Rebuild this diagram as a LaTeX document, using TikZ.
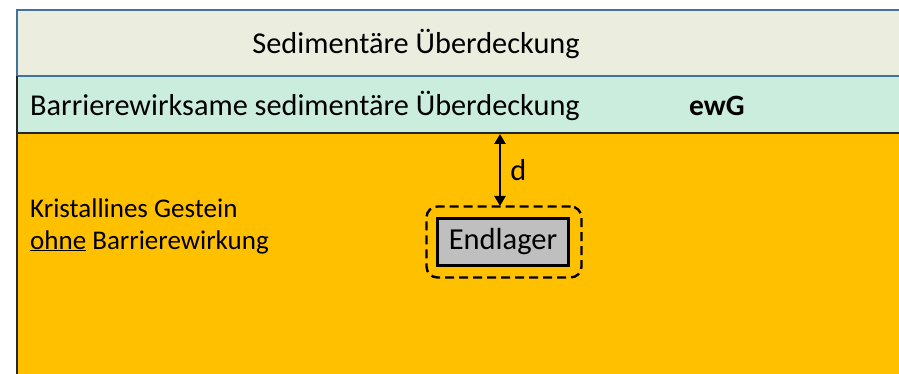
\documentclass[tikz,border=0pt]{standalone}
\usepackage{fontspec}
\setmainfont{Carlito}
\usetikzlibrary{arrows.meta}
\definecolor{sedtop}{HTML}{EBEEDF}
\definecolor{sedbar}{HTML}{CBEDDE}
\definecolor{kristall}{HTML}{FFC000}
\definecolor{bluebord}{HTML}{41719C}
\definecolor{lagergray}{HTML}{BFBFBF}
\tikzset{
  lbl/.style={font=\fontsize{30.3}{36}\selectfont, inner sep=0pt},
  lagerbox/.style={draw=black, line width=2.4pt, fill=lagergray, minimum width=131pt, minimum height=47pt, inner sep=0pt, font=\fontsize{30.5}{36}\selectfont},
  zone/.style={draw=black, line width=2.4pt, dash pattern=on 9pt off 5pt, rounded corners=11pt},
  darrow/.style={line width=2.6pt, {Triangle[length=10pt,width=11pt]}-{Triangle[length=10pt,width=11pt]}}
}
\begin{document}
\begin{tikzpicture}[x=1pt,y=-1pt]
\useasboundingbox (0,0) rectangle (899,374);
% layers
\fill[kristall] (17,133) rectangle (899,374);
\fill[sedbar] (17,76) rectangle (899,133);
\fill[sedtop] (17,10) rectangle (899,76);
\draw[bluebord, line width=1.6pt] (899,10) -- (17,10) -- (17,76) -- (899,76);
\draw[black!85, line width=1.6pt] (17,76) -- (17,374);
\draw[black!85, line width=1.6pt] (17,133) -- (899,133);
% texts
\node[lbl] (sed) at (416,44) {Sedimentäre Überdeckung};
\node[lbl, anchor=west] (bar) at (30,106) {Barrierewirksame sedimentäre Überdeckung};
\node[lbl, anchor=west, font=\fontsize{29.5}{34}\selectfont\bfseries] (ewg) at (689,106) {ewG};
\node[anchor=base west, inner sep=0pt, align=left, font=\fontsize{27}{32}\selectfont] (krist) at (30,249) {Kristallines Gestein\\\underline{ohne} Barrierewirkung};
% Endlager
\node[lagerbox] (lager) at (503,242) {Endlager};
\node[zone, minimum width=155pt, minimum height=71pt, inner sep=0pt] (zonebox) at (504,242) {};
\coordinate (top) at (500,134);
\coordinate (bot) at (500,206);
\draw[darrow] (top) -- (bot) node[midway, right=9pt, lbl] (d) {d};
\end{tikzpicture}
\end{document}
